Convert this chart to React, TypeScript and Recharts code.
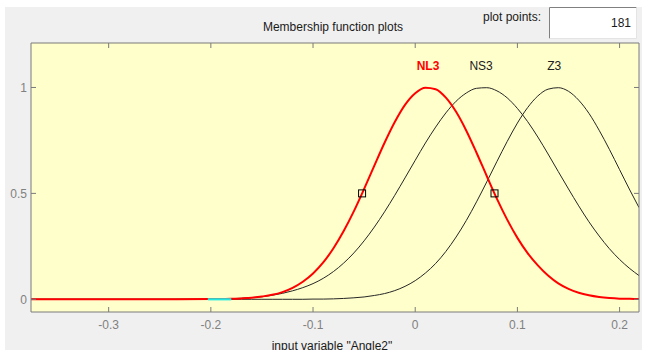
import { CartesianGrid, ComposedChart, Line, Scatter, XAxis, YAxis } from "recharts";

// sample positions along "Angle2"
const xs = [
	-0.376, -0.3, -0.25, -0.2, -0.19, -0.18, -0.17, -0.16, -0.15, -0.14, -0.13,
	-0.12, -0.11, -0.1, -0.09, -0.08, -0.07, -0.06, -0.05, -0.04, -0.03, -0.02,
	-0.01, 0, 0.01, 0.02, 0.03, 0.04, 0.05, 0.06, 0.07, 0.08, 0.09, 0.1, 0.11,
	0.12, 0.13, 0.14, 0.15, 0.16, 0.17, 0.18, 0.19, 0.2, 0.21, 0.219,
];

const nl3 = [
	0, 0, 0, 0.001, 0.001, 0.002, 0.004, 0.007, 0.013, 0.021, 0.034, 0.054, 0.083,
	0.122, 0.174, 0.241, 0.322, 0.416, 0.521, 0.631, 0.739, 0.837, 0.918, 0.973,
	0.999, 0.992, 0.952, 0.885, 0.796, 0.692, 0.582, 0.474, 0.376, 0.29, 0.218,
	0.16, 0.112, 0.075, 0.049, 0.031, 0.019, 0.011, 0.006, 0.003, 0.002, 0.001,
];

const ns3 = [
	0, 0, 0, 0.001, 0.002, 0.003, 0.005, 0.008, 0.012, 0.019, 0.028, 0.04, 0.055,
	0.074, 0.099, 0.131, 0.171, 0.219, 0.276, 0.341, 0.413, 0.491, 0.573, 0.656,
	0.738, 0.813, 0.88, 0.935, 0.974, 0.996, 0.999, 0.984, 0.951, 0.901, 0.839,
	0.766, 0.686, 0.603, 0.521, 0.441, 0.366, 0.299, 0.239, 0.188, 0.145, 0.112,
];

const z3 = [
	0, 0, 0, 0, 0, 0, 0, 0, 0, 0, 0, 0, 0, 0.001, 0.001, 0.002, 0.004, 0.007,
	0.011, 0.018, 0.027, 0.041, 0.061, 0.088, 0.124, 0.169, 0.226, 0.294, 0.372,
	0.46, 0.554, 0.651, 0.745, 0.832, 0.905, 0.96, 0.992, 0.999, 0.982, 0.94,
	0.878, 0.798, 0.708, 0.612, 0.516, 0.433,
];

const cyanXs = [-0.203, -0.18];
const cyanYs = [0, 0];

const handleXs = [-0.052, 0.0776];
const handleYs = [0.5, 0.5];

const mfNames = ["NL3", "NS3", "Z3"];
const mfLabelXs = [0.0125, 0.0645, 0.136];
const mfLabelYs = [1.105, 1.105, 1.105];

const xTicks = [-0.3, -0.2, -0.1, 0, 0.1, 0.2];
const yTicks = [0, 0.5, 1];

const FONT = "Arial, 'Liberation Sans', sans-serif";
const X_DOMAIN: [number, number] = [-0.376, 0.219];
const Y_DOMAIN: [number, number] = [-0.06, 1.21];

// plot box (set by the margins / axis sizes below)
const TOP = 43;
const BOTTOM = 312;
const LEFT = 31;
const RIGHT = 639;
const TICK = 5;
const AXIS_GRAY = "#7a7a7a";
const LABEL_GRAY = "#808080";

const toRows = (xv: number[], yv: number[]) =>
	xv.map((x, i) => ({ x, y: yv[i] }));

const nl3Rows = toRows(xs, nl3);
const ns3Rows = toRows(xs, ns3);
const z3Rows = toRows(xs, z3);
const cyanRows = toRows(cyanXs, cyanYs);
const handleRows = toRows(handleXs, handleYs);
const labelRows = mfLabelXs.map((x, i) => ({
	x,
	y: mfLabelYs[i],
	name: mfNames[i],
}));

const BottomTick = (p: any) => (
	<g>
		<line x1={p.x} x2={p.x} y1={BOTTOM} y2={BOTTOM - TICK} stroke={AXIS_GRAY} />
		<text
			x={p.x}
			y={BOTTOM + 17}
			textAnchor="middle"
			fontSize={12}
			fontFamily={FONT}
			fill={LABEL_GRAY}
		>
			{p.payload.value}
		</text>
	</g>
);

const TopTick = (p: any) => (
	<line x1={p.x} x2={p.x} y1={TOP} y2={TOP + TICK} stroke={AXIS_GRAY} />
);

const LeftTick = (p: any) => (
	<g>
		<line x1={LEFT} x2={LEFT + TICK} y1={p.y} y2={p.y} stroke={AXIS_GRAY} />
		<text
			x={LEFT - 4}
			y={p.y}
			dy={4.5}
			textAnchor="end"
			fontSize={12}
			fontFamily={FONT}
			fill={LABEL_GRAY}
		>
			{p.payload.value}
		</text>
	</g>
);

const RightTick = (p: any) => (
	<line x1={RIGHT - TICK} x2={RIGHT} y1={p.y} y2={p.y} stroke={AXIS_GRAY} />
);

export default function App() {
	return (
		<div
			style={{
				position: "absolute",
				left: 0,
				top: 0,
				width: 648,
				height: 356,
				background: "#ffffff",
				overflow: "hidden",
				fontFamily: FONT,
			}}
		>
			<div
				style={{
					position: "absolute",
					left: 5,
					top: 7,
					width: 637,
					height: 343,
					background: "#f0f0f0",
				}}
			/>

			<div style={{ position: "absolute", left: 0, top: 0 }}>
				<ComposedChart
					width={648}
					height={356}
					margin={{ top: TOP - 1, right: 648 - RIGHT - 1, bottom: 356 - BOTTOM - 30, left: 0 }}
					style={{ fontFamily: FONT }}
				>
					<CartesianGrid
						xAxisId="b"
						yAxisId="l"
						fill="#ffffcc"
						horizontal={false}
						vertical={false}
					/>
					<XAxis
						xAxisId="b"
						type="number"
						dataKey="x"
						domain={X_DOMAIN}
						ticks={xTicks}
						allowDataOverflow
						height={30}
						stroke={AXIS_GRAY}
						tickLine={false}
						tick={BottomTick}
					/>
					<XAxis
						xAxisId="t"
						orientation="top"
						type="number"
						dataKey="x"
						domain={X_DOMAIN}
						ticks={xTicks}
						allowDataOverflow
						height={1}
						stroke={AXIS_GRAY}
						tickLine={false}
						tick={TopTick}
					/>
					<YAxis
						yAxisId="l"
						type="number"
						dataKey="y"
						domain={Y_DOMAIN}
						ticks={yTicks}
						allowDataOverflow
						width={LEFT}
						stroke={AXIS_GRAY}
						tickLine={false}
						tick={LeftTick}
					/>
					<YAxis
						yAxisId="r"
						orientation="right"
						type="number"
						dataKey="y"
						domain={Y_DOMAIN}
						ticks={yTicks}
						allowDataOverflow
						width={1}
						stroke={AXIS_GRAY}
						tickLine={false}
						tick={RightTick}
					/>

					<Line
						xAxisId="b"
						yAxisId="l"
						data={z3Rows}
						dataKey="y"
						type="monotone"
						stroke="#262626"
						strokeWidth={1}
						dot={false}
						isAnimationActive={false}
					/>
					<Line
						xAxisId="b"
						yAxisId="l"
						data={ns3Rows}
						dataKey="y"
						type="monotone"
						stroke="#262626"
						strokeWidth={1}
						dot={false}
						isAnimationActive={false}
					/>
					<Line
						xAxisId="b"
						yAxisId="l"
						data={nl3Rows}
						dataKey="y"
						type="monotone"
						stroke="#ff0000"
						strokeWidth={2}
						dot={false}
						isAnimationActive={false}
					/>
					<Line
						xAxisId="b"
						yAxisId="l"
						data={cyanRows}
						dataKey="y"
						type="linear"
						stroke="#22e8e0"
						strokeWidth={2.2}
						dot={false}
						isAnimationActive={false}
					/>
					<Scatter
						xAxisId="b"
						yAxisId="l"
						data={handleRows}
						dataKey="y"
						isAnimationActive={false}
						shape={(p: any) => (
							<rect
								x={p.cx - 3.5}
								y={p.cy - 3.5}
								width={7}
								height={7}
								fill="none"
								stroke="#000000"
								strokeWidth={1}
							/>
						)}
					/>
					<Scatter
						xAxisId="b"
						yAxisId="l"
						data={labelRows}
						dataKey="y"
						isAnimationActive={false}
						shape={(p: any) => (
							<text
								x={p.cx}
								y={p.cy}
								dy={4.5}
								textAnchor="middle"
								fontSize={12}
								fontFamily={FONT}
								fontWeight={p.payload.name === "NL3" ? "bold" : "normal"}
								fill={p.payload.name === "NL3" ? "#ff0000" : "#202020"}
							>
								{p.payload.name}
							</text>
						)}
					/>
				</ComposedChart>
			</div>

			<svg
				width={648}
				height={356}
				style={{ position: "absolute", left: 0, top: 0, pointerEvents: "none" }}
			>
				<text x={333} y={30.5} textAnchor="middle" fontSize={12} fill="#1a1a1a">
					Membership function plots
				</text>
				<text x={483} y={21} fontSize={12} fill="#1a1a1a">
					plot points:
				</text>
				<rect x={549} y={7.5} width={87} height={31} fill="#ffffff" />
				<polyline
					points="549.5,38.5 549.5,7.5 636.5,7.5"
					fill="none"
					stroke="#808080"
				/>
				<polyline
					points="549.5,38.5 636.5,38.5 636.5,7.5"
					fill="none"
					stroke="#e4e4e4"
				/>
				<text x={631} y={27} textAnchor="end" fontSize={12} fill="#1a1a1a">
					181
				</text>
				<text x={332} y={349.5} textAnchor="middle" fontSize={12} fill="#1a1a1a">
					input variable "Angle2"
				</text>
				<rect x={0} y={350} width={648} height={6} fill="#ffffff" />
			</svg>
		</div>
	);
}
